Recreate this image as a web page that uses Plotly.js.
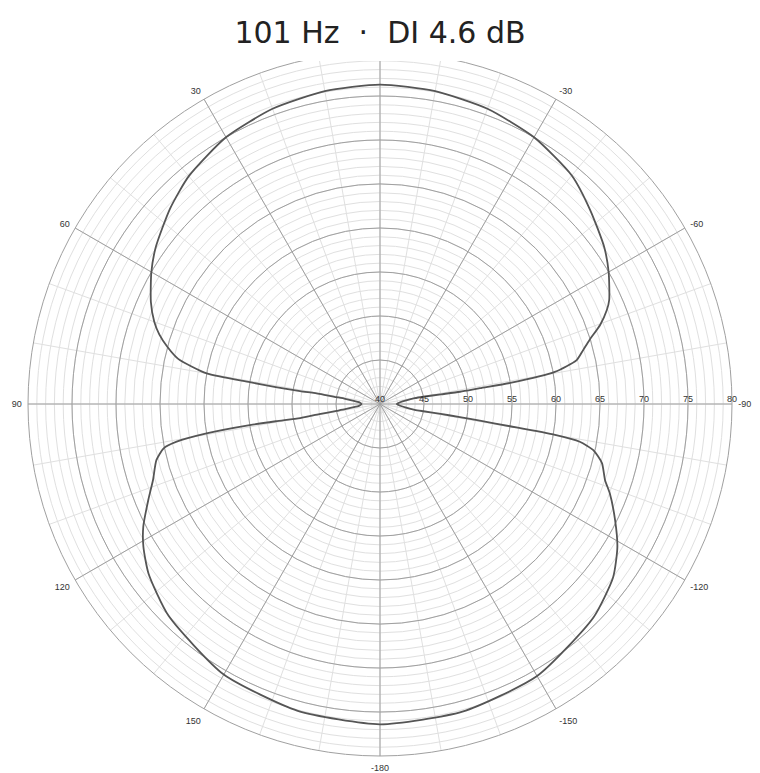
<!DOCTYPE html>
<html>
<head>
<meta charset="utf-8">
<script src="https://cdn.plot.ly/plotly-3.0.1.min.js"></script>
<style>
  html, body { margin: 0; padding: 0; background: #fff; }
  #polar_plot { width: 760px; height: 773px; }
</style>
</head>
<body>
<div id="polar_plot"></div>
<script>
// angle in degrees (positive = left side), level in dB
var angle_deg = [
  0, -10, -20, -30, -40, -47.3, -55, -60, -65.6, -67.5, -70.2, -73, -75.1, -77.4, -79.6,
  -80.8, -81, -81.3, -81, -80.5, -80.5, -82, -85, -90, -95, -98, -99.5, -99.5, -99.3,
  -99.3, -99.5, -99.7, -100, -100.7, -102.2, -104.9, -108.7, -111.2, -116.3, -121.1,
  -126.6, -135, -150, -165, -180,
  165, 150, 135, 126.2, 121.1, 117.4, 112.5, 108.5, 104.1, 101.6, 100.5, 99.6, 99.2,
  99.4, 100, 99.5, 99, 98.5, 97, 95, 90, 85, 83, 81.5, 81, 80.5, 80.8, 80.8, 80.5,
  80, 77.4, 75, 72.5, 70, 66, 60, 55, 47, 40, 30, 20, 10, 0
];
var level_db = [
  76.3, 76.1, 75.7, 75.0, 73.9, 72.5, 71.1, 70.0, 68.6, 67.9, 66.6, 64.9, 63.9, 62.9, 60.2,
  55.0, 51.5, 49.2, 47.0, 45.0, 44.0, 43.0, 42.3, 41.9, 42.3, 43.0, 44.0, 45.0, 47.0,
  49.2, 51.5, 55.0, 60.2, 63.1, 64.8, 66.1, 67.0, 68.0, 69.8, 71.5,
  73.0, 74.3, 75.7, 76.2, 76.4,
  76.1, 75.5, 74.0, 72.6, 71.4, 70.3, 68.5, 67.2, 66.2, 65.1, 63.5, 60.0, 55.0,
  52.0, 49.2, 47.0, 45.0, 44.0, 43.0, 42.4, 42.1, 42.4, 43.0, 44.0, 45.0, 47.0, 49.2, 52.0, 55.0,
  60.0, 63.5, 65.0, 66.3, 67.3, 68.5, 70.0, 71.1, 72.6, 73.8, 75.0, 75.7, 76.1, 76.3
];

var angle_ticks = [0, 30, 60, 90, 120, 150, 180, 210, 240, 270, 300, 330];
var angle_labels = ['', '30', '60', '90', '120', '150', '-180', '-150', '-120', '-90', '-60', '-30'];
var level_ticks = [40, 45, 50, 55, 60, 65, 70, 75, 80];
var level_labels = ['40', '45', '50', '55', '60', '65', '70', '75', '80'];

var dom_x = [28 / 760, 732 / 760];
var dom_y = [17 / 773, 721 / 773];

var data = [
  // empty trace so the light grid subplot gets drawn
  {
    type: 'scatterpolar',
    subplot: 'polar',
    r: [],
    theta: [],
    mode: 'lines',
    hoverinfo: 'skip'
  },
  {
    type: 'scatterpolar',
    subplot: 'polar2',
    r: level_db,
    theta: angle_deg,
    mode: 'lines',
    line: {color: '#555555', width: 1.8, shape: 'spline', smoothing: 0.6},
    hoverinfo: 'skip'
  }
];

var layout = {
  width: 760,
  height: 773,
  margin: {l: 0, r: 0, t: 0, b: 0},
  paper_bgcolor: '#ffffff',
  showlegend: false,
  font: {family: 'Liberation Sans, Arial, sans-serif', size: 9, color: '#333333'},
  title: {
    text: '101 Hz  \u00b7  DI 4.6 dB',
    x: 0.5, xanchor: 'center',
    y: 1 - 32 / 773, yanchor: 'middle',
    font: {family: 'DejaVu Sans', size: 30, color: '#222222'}
  },
  // light grid: 1 dB rings, 10 degree spokes
  polar: {
    domain: {x: dom_x, y: dom_y},
    bgcolor: '#ffffff',
    radialaxis: {
      range: [40, 80], dtick: 1, tick0: 40,
      showticklabels: false, ticks: '', showline: false,
      gridcolor: '#e0e0e0', gridwidth: 1
    },
    angularaxis: {
      rotation: 90, direction: 'counterclockwise',
      dtick: 10, showticklabels: false, ticks: '', showline: false,
      gridcolor: '#e0e0e0', gridwidth: 1
    }
  },
  // main grid: 5 dB rings, 30 degree spokes, labels
  polar2: {
    domain: {x: dom_x, y: dom_y},
    bgcolor: 'rgba(0,0,0,0)',
    radialaxis: {
      range: [40, 80], angle: 0, side: 'counterclockwise',
      tickvals: level_ticks, ticktext: level_labels,
      ticks: '', showline: false,
      gridcolor: '#a0a0a0', gridwidth: 1,
      tickfont: {size: 9, color: '#333333'}
    },
    angularaxis: {
      rotation: 90, direction: 'counterclockwise',
      tickvals: angle_ticks, ticktext: angle_labels,
      ticks: 'outside', ticklen: 4, tickcolor: 'rgba(0,0,0,0)',
      showline: true, linecolor: '#a0a0a0', linewidth: 1,
      gridcolor: '#a0a0a0', gridwidth: 1,
      tickfont: {size: 9, color: '#333333'}
    }
  },
  // title area covers the top of the rings
  shapes: [{
    type: 'rect', xref: 'paper', yref: 'paper', layer: 'above',
    x0: 200 / 760, x1: 560 / 760, y0: 1 - 61 / 773, y1: 1,
    fillcolor: '#ffffff', line: {width: 0}
  }]
};

Plotly.newPlot('polar_plot', data, layout, {staticPlot: true, displayModeBar: false});
</script>
</body>
</html>
